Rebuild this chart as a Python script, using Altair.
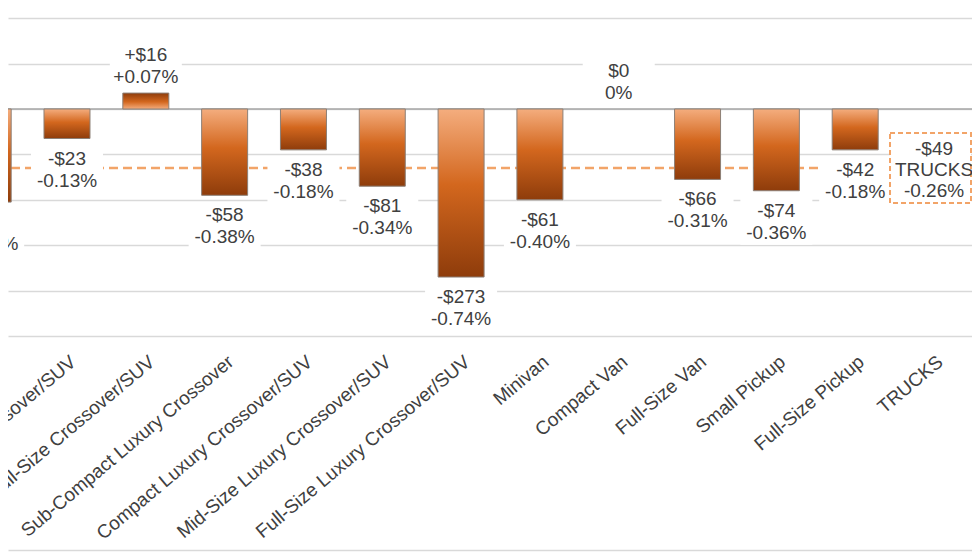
import json
import altair as alt
import pandas as pd

# ---- data ----
categories = [
    "Compact Crossover/SUV",
    "Mid-Size Crossover/SUV",
    "Full-Size Crossover/SUV",
    "Sub-Compact Luxury Crossover",
    "Compact Luxury Crossover/SUV",
    "Mid-Size Luxury Crossover/SUV",
    "Full-Size Luxury Crossover/SUV",
    "Minivan",
    "Compact Van",
    "Full-Size Van",
    "Small Pickup",
    "Full-Size Pickup",
]
dollar_labels = ["-$65", "-$23", "+$16", "-$58", "-$38", "-$81", "-$273",
                 "-$61", "$0", "-$66", "-$74", "-$42"]
pct_labels = ["-0.41%", "-0.13%", "+0.07%", "-0.38%", "-0.18%", "-0.34%",
              "-0.74%", "-0.40%", "0%", "-0.31%", "-0.36%", "-0.18%"]
pct_values = [-0.41, -0.13, 0.07, -0.38, -0.18, -0.34, -0.74, -0.40, 0.0,
              -0.31, -0.36, -0.18]

summary_name = "TRUCKS"
summary_dollar = "-$49"
summary_pct_label = "-0.26%"
summary_pct = -0.26

gridline_values = [-1.0, -0.8, -0.6, -0.4, -0.2, 0.0, 0.2, 0.4]
zero_value = [0.0]

FONT = "Liberation Sans"
TEXT = "#404040"
FS = 19

n = len(categories)
df = pd.DataFrame({
    "idx": list(range(n)),
    "category": categories,
    "pct": pct_values,
    "label": [f"{d}\n{p}" for d, p in zip(dollar_labels, pct_labels)],
})
summary_df = pd.DataFrame({
    "idx": [n],
    "pct": [summary_pct],
    "label": [f"{summary_dollar}\n{summary_name}\n{summary_pct_label}"],
})
zero_df = pd.DataFrame({"pct": zero_value})

all_names = categories + [summary_name]
label_expr = json.dumps(all_names) + "[datum.value]"

xscale = alt.Scale(domain=[0.2515, 12.482], nice=False, zero=False, padding=0)
yscale = alt.Scale(domain=[-1.942, 0.4447], nice=False, zero=False, padding=0)

xaxis = alt.Axis(
    values=list(range(n + 1)), labelExpr=label_expr, labelAngle=-40,
    labelAlign="right", labelBaseline="top", labelPadding=-198,
    labelFontSize=FS, labelFont=FONT, labelColor=TEXT, labelLimit=400,
    labelOverlap=False, labelFlush=False, ticks=False, grid=False,
    domain=True, domainColor="#d9d9d9", domainWidth=1.5, title=None,
)
yaxis = alt.Axis(
    values=gridline_values, labels=False, ticks=False, domain=False,
    grid=True, gridColor="#d9d9d9", gridWidth=1.5, title=None,
)

X = alt.X("idx:Q", scale=xscale, axis=xaxis)
Y = alt.Y("pct:Q", scale=yscale, axis=yaxis)

stops = [alt.GradientStop(color="#f4ad7e", offset=0),
         alt.GradientStop(color="#d3671e", offset=0.45),
         alt.GradientStop(color="#8e3c0b", offset=1)]
neg_grad = alt.Gradient(gradient="linear", stops=stops, x1=0, x2=0, y1=0, y2=1)
pos_grad = alt.Gradient(gradient="linear", stops=stops, x1=0, x2=0, y1=1, y2=0)

base = alt.Chart(df)

zero_rule = alt.Chart(zero_df).mark_rule(color="#a6a6a6", strokeWidth=1.5).encode(
    y=Y
)

avg_line = alt.Chart(summary_df).mark_rule(
    color="#f2a468", strokeWidth=2.5, strokeDash=[9, 5]
).encode(y=Y)

neg_bars = base.transform_filter("datum.pct < 0").transform_calculate(
    zero="0"
).mark_bar(
    width=46, fill=neg_grad, stroke="#8c7f76", strokeWidth=1, clip=True
).encode(x=X, y=Y, y2=alt.Y2("zero:Q"))

pos_bars = base.transform_filter("datum.pct > 0").transform_calculate(
    zero="0"
).mark_bar(
    width=46, fill=pos_grad, stroke="#8c7f76", strokeWidth=1, clip=True
).encode(x=X, y=Y, y2=alt.Y2("zero:Q"))

neg_bg = base.transform_filter("datum.pct < 0").mark_rect(
    fill="white", xOffset=-36, x2Offset=36, yOffset=8, y2Offset=54, clip=True
).encode(x=X, x2="idx:Q", y=Y, y2="pct:Q")

pos_bg = base.transform_filter("datum.pct >= 0").mark_rect(
    fill="white", xOffset=-36, x2Offset=36, yOffset=-53, y2Offset=-6, clip=True
).encode(x=X, x2="idx:Q", y=Y, y2="pct:Q")

neg_text = base.transform_filter("datum.pct < 0").mark_text(
    lineBreak="\n", baseline="top", dy=11, fontSize=FS, font=FONT,
    color=TEXT, lineHeight=22, clip=True
).encode(x=X, y=Y, text="label:N")

pos_text = base.transform_filter("datum.pct >= 0").mark_text(
    lineBreak="\n", baseline="bottom", dy=-28, fontSize=FS, font=FONT,
    color=TEXT, lineHeight=22, clip=True
).encode(x=X, y=Y, text="label:N")

sum_box = alt.Chart(summary_df).mark_rect(
    fill="white", stroke="#f2a468", strokeWidth=2, strokeDash=[5, 3],
    xOffset=-44, x2Offset=37, yOffset=-35, y2Offset=35
).encode(x=X, x2="idx:Q", y=Y, y2="pct:Q")

sum_text = alt.Chart(summary_df).mark_text(
    lineBreak="\n", baseline="middle", dy=-19, fontSize=FS, font=FONT,
    color=TEXT, lineHeight=21
).encode(x=X, y=Y, text="label:N")

chart = alt.layer(
    zero_rule, avg_line, neg_bars, pos_bars, neg_bg, pos_bg,
    neg_text, pos_text, sum_box, sum_text
).properties(
    width=964, height=542,
    autosize=alt.AutoSizeParams(type="none"),
    padding={"left": 0, "top": 0, "right": 0, "bottom": 2},
    background="white",
).configure_view(stroke=None)

chart.save("out.html", embed_options={"renderer": "svg", "actions": False})
